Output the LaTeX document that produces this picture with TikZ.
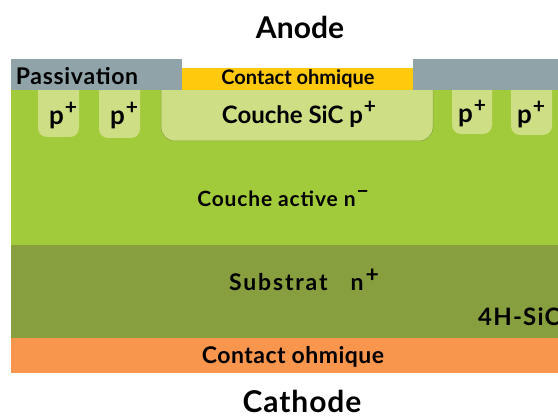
\documentclass[tikz,border=0pt]{standalone}
\usepackage{fontspec}
\setmainfont{Lato}
\definecolor{passivgray}{HTML}{8FA3A8}
\definecolor{contactyellow}{HTML}{FFC90E}
\definecolor{activegreen}{HTML}{A2CB3B}
\definecolor{wellgreen}{HTML}{CEDE84}
\definecolor{substrategreen}{HTML}{879F3F}
\definecolor{contactorange}{HTML}{F9964E}
\newcommand{\txt}[2]{\fontsize{#1}{#1}\selectfont\addfontfeature{LetterSpace=#2}}
\newcommand{\pplus}{p\raisebox{10pt}{\fontsize{21}{21}\selectfont\kern1pt +}}
\begin{document}
\begin{tikzpicture}[x=1pt,y=-1pt]

      \useasboundingbox (0,0) rectangle (558,417);

      % layers
      \fill[activegreen]    (11,90)  rectangle (558,245);
      \fill[substrategreen] (11,245) rectangle (558,338);
      \fill[contactorange]  (11,338) rectangle (558,373);

      % wells
      \fill[wellgreen, rounded corners=9pt] (38,80) rectangle (79,137);
      \fill[wellgreen, rounded corners=9pt] (99,80) rectangle (140,138);
      \filldraw[wellgreen, draw=substrategreen, line width=.5pt, rounded corners=14pt] (161,70) rectangle (433,141);
      \fill[wellgreen, rounded corners=9pt] (452,80) rectangle (492,134);
      \fill[wellgreen, rounded corners=9pt] (511,80) rectangle (552,135);

      % top layers, over the wells
      \fill[passivgray]     (11,59)  rectangle (182,90);
      \fill[passivgray]     (413,59) rectangle (558,90);
      \fill[contactyellow]  (182,68) rectangle (413,90);

      \begin{scope}[every node/.style={font=\bfseries, inner sep=0pt, anchor=base}]
        \node (passiv)   at (77,85)   {\txt{23}{3}Passivation};
        \node (ohm1)     at (298,85)  {\txt{20}{0}Contact ohmique};
        \node (well1)    at (63,125)  {\txt{26}{0}\pplus};
        \node (well2)    at (124,125) {\txt{26}{0}\pplus};
        \node (couche)   at (299,124) {\txt{24}{0}Couche SiC \pplus};
        \node (well3)    at (472,123) {\txt{26}{0}\pplus};
        \node (well4)    at (531,124) {\txt{26}{0}\pplus};
        \node (active)   at (283,207) {\txt{21}{4}Couche active n\raisebox{8pt}{\kern1pt −}};
        \node (substrat) at (304,291) {\txt{23}{8}Substrat\quad n\raisebox{9pt}{\kern2pt +}};
        \node[anchor=base west] (sic) at (478,326) {\txt{24}{5}4H-SiC};
        \node (ohm2)     at (293,363) {\txt{23}{2}Contact ohmique};
      \end{scope}

      \begin{scope}[every node/.style={font=\bfseries, inner sep=0pt, anchor=base}]
        \node (anode)   at (300,39)  {\txt{30}{0}Anode};
        \node (cathode) at (302,413) {\txt{30}{3}Cathode};
      \end{scope}

    \end{tikzpicture}
\end{document}
